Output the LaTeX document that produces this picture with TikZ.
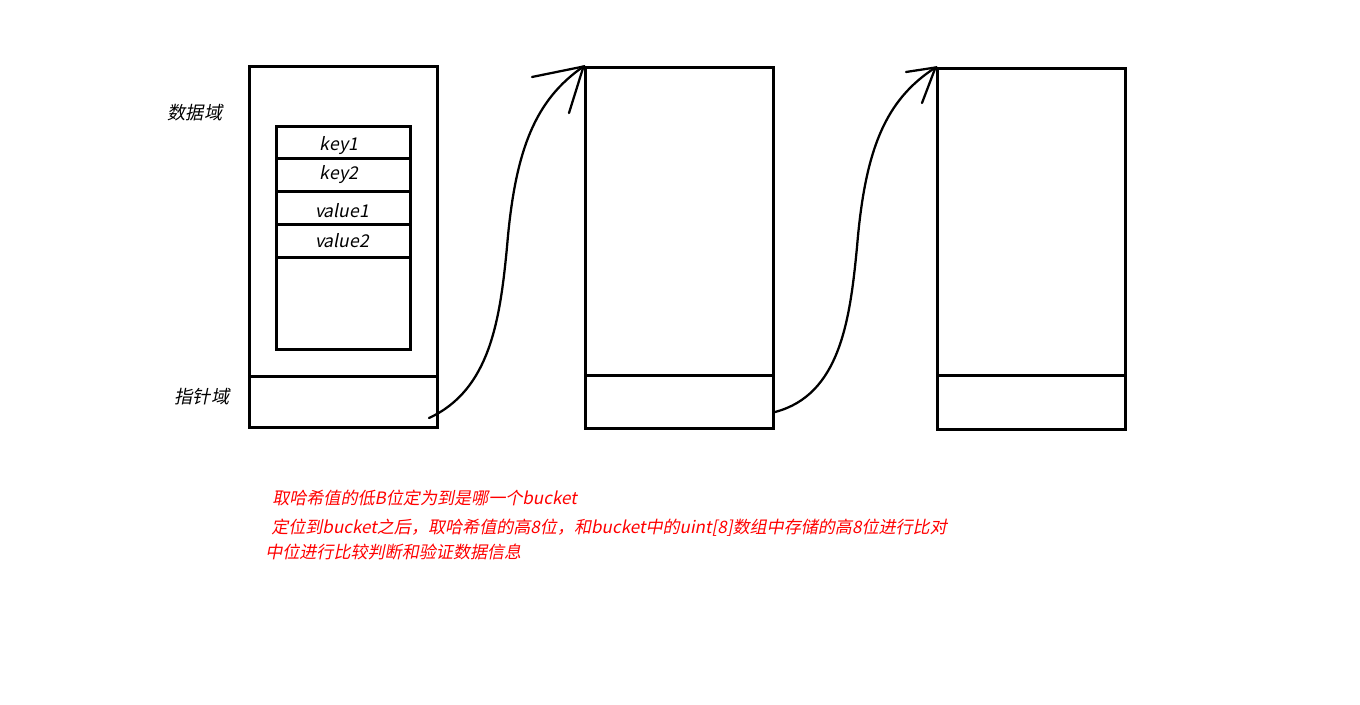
\documentclass[tikz,border=0pt]{standalone}
\usepackage{fontspec}
\newfontfamily\cjk[FakeSlant=0.2]{Noto Sans CJK SC}
\usetikzlibrary{fit}
\begin{document}
\begin{tikzpicture}[x=0.75pt,y=-0.75pt,
  box/.style={draw,line width=2.25pt,inner sep=0pt},
  cell/.style={draw,line width=2.25pt,inner sep=0pt},
  lbl/.style={font=\cjk\fontsize{13.6}{16}\selectfont,inner sep=0pt},
  cl/.style={font=\cjk\fontsize{13.2}{16}\selectfont,inner sep=0pt},
  note/.style={font=\cjk\fontsize{12.8}{15}\selectfont,text=red,anchor=west,inner sep=0pt},
  link/.style={line width=1.7pt,line cap=round}]
\useasboundingbox (0,0) rectangle (1360,705);
% bucket 1
\node[box,fit={(249,67)(437,377)}] (d1) {};
\node[box,fit={(249,377)(437,428)}] (p1) {};
\node[cell,fit={(276,127)(410,159)}] (k1) {};
\node[cell,fit={(276,159)(410,192)}] (k2) {};
\node[cell,fit={(276,192)(410,225)}] (v1) {};
\node[cell,fit={(276,225)(410,258)}] (v2) {};
\node[cell,fit={(276,258)(410,350)}] (e1) {};
\node[cl] (tk1) at (339,146) {key1};
\node[cl] (tk2) at (339,175) {key2};
\node[cl] (tv1) at (342,211) {value1};
\node[cl] (tv2) at (342,241) {value2};
\node[lbl] (tdata) at (195,113) {数据域};
\node[lbl] (tptr) at (202,397) {指针域};
% bucket 2
\node[box,fit={(585,68)(773,376)}] (d2) {};
\node[box,fit={(585,376)(773,429)}] (p2) {};
% bucket 3
\node[box,fit={(937,69)(1125,376)}] (d3) {};
\node[box,fit={(937,376)(1125,430)}] (p3) {};
% links
\coordinate (s1) at (429,418);
\coordinate (m1) at (507,247);
\coordinate (h1a) at (532,77);
\coordinate (h1b) at (569,113);
\draw[link] (s1) .. controls (490,390) and (500,320) .. (m1)
  .. controls (515,150) and (535,100) .. (d2.north west);
\draw[link] (h1a) -- (d2.north west) -- (h1b);
\coordinate (s2) at (775,412);
\coordinate (m2) at (857,247);
\coordinate (h2a) at (906,72);
\coordinate (h2b) at (922,103);
\draw[link] (s2) .. controls (840,395) and (850,320) .. (m2)
  .. controls (865,150) and (885,100) .. (d3.north west);
\draw[link] (h2a) -- (d3.north west) -- (h2b);
% notes
\node[note] (n1) at (272,498) {取哈希值的低B位定为到是哪一个bucket};
\node[note] (n2) at (271,528) {定位到bucket之后，取哈希值的高8位，和bucket中的uint[8]数组中存储的高8位进行比对};
\node[note] (n3) at (265,552) {中位进行比较判断和验证数据信息};
\end{tikzpicture}
\end{document}
